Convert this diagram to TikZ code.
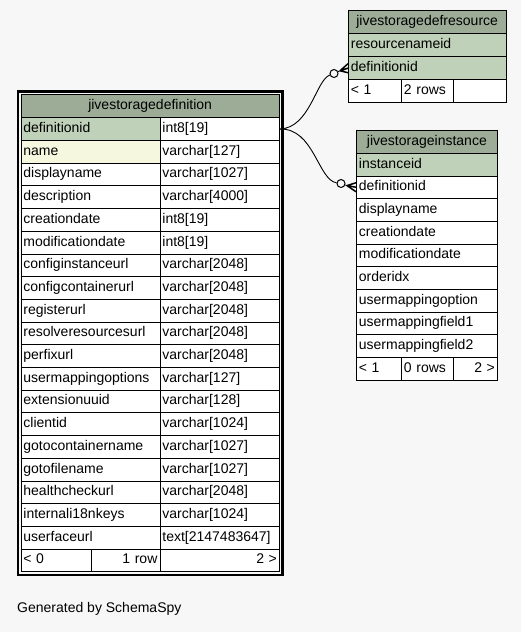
\documentclass[tikz,border=0pt]{standalone}
\usepackage{fontspec}
\setmainfont{Liberation Sans}
\usetikzlibrary{fit}
\definecolor{bg}{HTML}{F7F7F7}
\definecolor{hd}{HTML}{9CAC97}
\definecolor{pk}{HTML}{BFD1B8}
\definecolor{ix}{HTML}{F5F7DF}
\tikzset{
  cell/.style={draw=black, line width=0.8pt, anchor=north west, inner xsep=2.5pt, inner ysep=0pt,
    minimum height=#1, font=\fontsize{14}{16}\selectfont, text height=10pt, text depth=3pt, align=left},
  cell/.default=22.7pt,
  odot/.style={circle, draw=black, line width=1pt, fill=bg, minimum size=8pt, inner sep=0pt},
  rel/.style={draw=black, line width=0.9pt},
  crow/.style={draw=black, line width=1.5pt},
  frame/.style={draw=black, line width=2.2pt, inner sep=2.6pt}
}
\begin{document}
\begin{tikzpicture}[x=1pt,y=-1pt]
\fill[bg] (0,0) rectangle (521,632);
\useasboundingbox (0,0) rectangle (521,632);

% ---------- main table ----------
\node[cell=23.3pt, fill=hd, text width=253.5pt, align=center] (m-h) at (20.5,94) {jivestoragedefinition};
\foreach \l/\r/\c [count=\i] in {
  definitionid/{int8[19]}/pk,
  name/{varchar[127]}/ix,
  displayname/{varchar[1027]}/white,
  description/{varchar[4000]}/white,
  creationdate/{int8[19]}/white,
  modificationdate/{int8[19]}/white,
  configinstanceurl/{varchar[2048]}/white,
  configcontainerurl/{varchar[2048]}/white,
  registerurl/{varchar[2048]}/white,
  resolveresourcesurl/{varchar[2048]}/white,
  perfixurl/{varchar[2048]}/white,
  usermappingoptions/{varchar[127]}/white,
  extensionuuid/{varchar[128]}/white,
  clientid/{varchar[1024]}/white,
  gotocontainername/{varchar[1027]}/white,
  gotofilename/{varchar[1027]}/white,
  healthcheckurl/{varchar[2048]}/white,
  internali18nkeys/{varchar[1024]}/white,
  userfaceurl/{text[2147483647]}/white} {
  \node[cell, fill=\c, text width=134pt] (m-\i-l) at (20.5,{117.3+(\i-1)*22.7}) {\l};
  \node[cell, fill=white, text width=114.5pt] (m-\i-r) at (159.5,{117.3+(\i-1)*22.7}) {\r};
}
\node[cell, fill=white, text width=65.5pt] (m-f1) at (20.5,548.6) {< 0};
\node[cell, fill=white, text width=63.5pt, align=right] (m-f2) at (91,548.6) {1 row};
\node[cell, fill=white, text width=114.5pt, align=right] (m-f3) at (159.5,548.6) {2 >};
\node[frame, fit=(m-h)(m-f1)(m-f3)] (m-frame) {};

% ---------- jivestoragedefresource ----------
\node[cell=23.3pt, fill=hd, text width=152.5pt, align=center] (r-h) at (348,10) {jivestoragedefresource};
\node[cell=23pt, fill=pk, text width=152.5pt] (r-1) at (348,33.3) {resourcenameid};
\node[cell=23pt, fill=pk, text width=152.5pt] (r-2) at (348,56.3) {definitionid};
\node[cell=23pt, fill=white, text width=48pt] (r-f1) at (348,79.3) {< 1};
\node[cell=23pt, fill=white, text width=47pt] (r-f2) at (401,79.3) {2 rows};
\node[cell=23pt, fill=white, text width=47.5pt] (r-f3) at (453,79.3) {};

% ---------- jivestorageinstance ----------
\node[cell=23.3pt, fill=hd, text width=136pt, align=center] (i-h) at (356,129.5) {jivestorageinstance};
\foreach \l/\c [count=\i] in {
  instanceid/pk, definitionid/white, displayname/white, creationdate/white,
  modificationdate/white, orderidx/white, usermappingoption/white,
  usermappingfield1/white, usermappingfield2/white} {
  \node[cell, fill=\c, text width=136pt] (i-\i) at (356,{152.8+(\i-1)*22.7}) {\l};
}
\node[cell, fill=white, text width=40pt] (i-f1) at (356,357.1) {< 1};
\node[cell, fill=white, text width=47pt] (i-f2) at (401,357.1) {0 rows};
\node[cell, fill=white, text width=39pt, align=right] (i-f3) at (453,357.1) {2 >};

% ---------- relationships ----------
\node[odot] (c1) at (334,73.5) {};
\coordinate (v1) at (340,70.8);
\draw[crow] (v1) -- ([yshift=-4.5pt]r-2.west) (v1) -- (r-2.west) (v1) -- ([yshift=4.5pt]r-2.west);
\draw[rel] (v1) -- (c1);
\draw[rel] (m-1-r.east) .. controls (310,128) and (316,80) .. (c1);

\node[odot] (c2) at (341,183.5) {};
\coordinate (v2) at (347,185.6);
\draw[crow] (v2) -- ([yshift=-4.5pt]i-2.west) (v2) -- (i-2.west) (v2) -- ([yshift=4.5pt]i-2.west);
\draw[rel] (v2) -- (c2);
\draw[rel] (m-1-r.east) .. controls (314,128) and (318,180) .. (c2);

\node[anchor=west, inner sep=0pt, font=\fontsize{14}{16}\selectfont] (gen) at (17,609) {Generated by SchemaSpy};
\end{tikzpicture}
\end{document}
